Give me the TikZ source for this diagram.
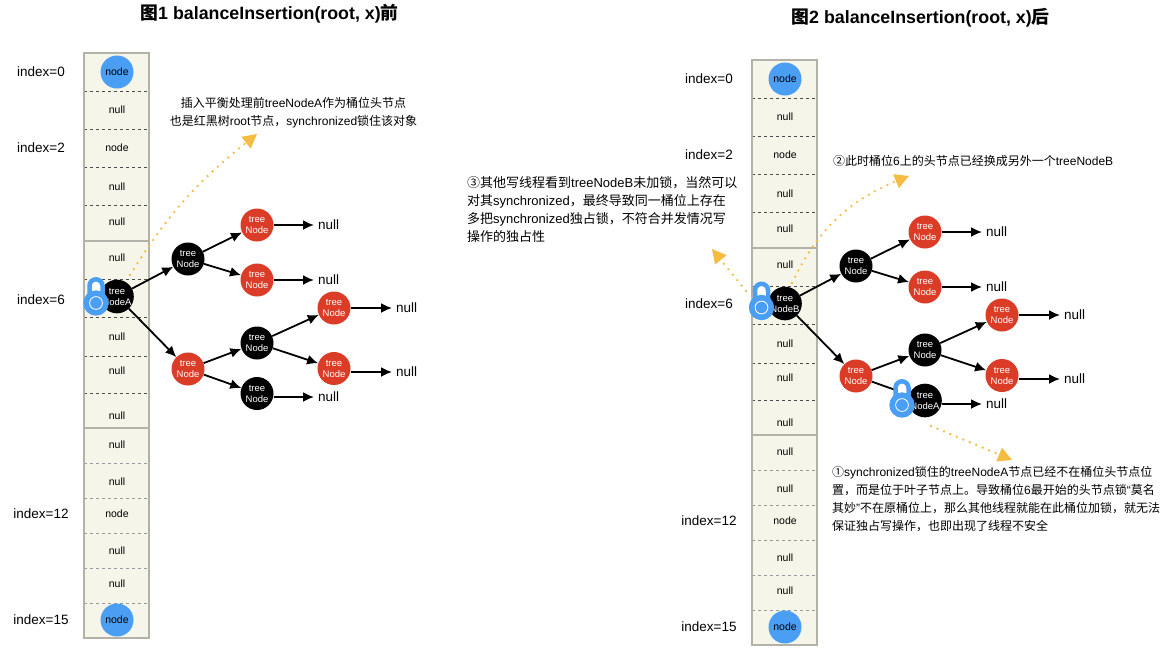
\documentclass[tikz,border=0pt]{standalone}
\usepackage{fontspec}
\setmainfont{Liberation Sans}
\newfontfamily\cjkfont{Noto Sans CJK SC}
\newcommand{\cn}[1]{{\cjkfont #1}}
\usepackage{xcolor}
\usetikzlibrary{arrows.meta, bending}
\definecolor{cellbg}{HTML}{F5F5E9}
\definecolor{cellline}{HTML}{B2B2A8}
\definecolor{nodeblue}{HTML}{4A9FF5}
\definecolor{nodered}{HTML}{DB3C27}
\definecolor{noteorange}{HTML}{F4BD42}

\begin{document}
\begin{tikzpicture}[x=1pt, y=-1pt, >={Latex[length=11pt,width=10pt]},
  cell/.style={font=\fontsize{10.5}{12}\selectfont, inner sep=1pt},
  idx/.style={font=\fontsize{13.5}{15}\selectfont, inner sep=0pt},
  bluenode/.style={circle,fill=nodeblue,minimum size=33pt,inner sep=0pt,font=\fontsize{10.5}{12}\selectfont},
  tnode/.style={circle,minimum size=33pt,inner sep=0pt,align=center,text=white,font=\fontsize{9.5}{11}\selectfont},
  blk/.style={tnode,fill=black},
  rd/.style={tnode,fill=nodered},
  nul/.style={anchor=west,font=\fontsize{13.5}{15}\selectfont,inner sep=4pt},
  link/.style={->,line width=1.8pt},
  hint/.style={line width=2.6pt,draw=noteorange,line cap=round,dash pattern=on 0pt off 7pt,
    -{Triangle[length=14pt,width=15pt,fill=noteorange,line width=0pt,flex]}},
  note/.style={anchor=west,align=left,font=\fontsize{12}{18}\selectfont,inner sep=0pt},
  ttl/.style={font=\fontsize{17.8}{20}\selectfont\bfseries,inner sep=0pt},
  lockpic/.pic={
    \draw[nodeblue,line width=4.5pt,fill=white] (-6.5,-6) -- (-6.5,-17.2) arc[start angle=180,end angle=360,radius=6.5] -- (6.5,-6);
    \fill[nodeblue] (0,0) circle[radius=12.7];
    \draw[white,line width=0.8pt,fill=nodeblue] (0,0) circle[radius=6.4];
  }]
  \useasboundingbox (0,0) rectangle (1167,654);

  % both panels share column and tree
  \foreach \p/\dx/\dy/\rootsfx/\leafsfx/\sixy in {L/0/0/A//300,R/668/7/B/A/297}{
  \begin{scope}[shift={(\dx,\dy)}]
    % bucket column
    \fill[cellbg] (84,53) rectangle (149,638);
    \foreach \y in {91,129,167,205,279,317,356,393}
      \draw[black!70,dashed,line width=0.4pt] (84,\y) -- (149,\y);
    \foreach \y in {463,498,533,568,603}
      \draw[black!40,dashed,line width=0.4pt] (84,\y) -- (149,\y);
    \draw[cellline,line width=1.3pt] (84,53) rectangle (149,638);
    \draw[cellline,line width=1.3pt] (84,241) -- (149,241) (84,428) -- (149,428);
    \foreach \y/\t in {110/null,148/node,187/null,222/null,258/null,337/null,371/null,416/null,445/null,482/null,514/node,551/null,584/null}
      \node[cell] (\p cell\y) at (117,\y) {\t};
    \node[bluenode] (\p first) at (117,72) {node};
    \node[bluenode] (\p last) at (117,620) {node};
    % index labels
    \foreach \y/\t in {72/0,148/2,\sixy/6,514/12,620/15}
      \node[idx] (\p idx\t) at (41,\y) {index=\t};
    % red black tree
    \node[blk] (\p root) at (117,296.5) {tree\\Node\rootsfx};
    \node[blk] (\p a) at (188,259) {tree\\Node};
    \node[rd] (\p b) at (188,369) {tree\\Node};
    \node[rd] (\p aa) at (257,225) {tree\\Node};
    \node[rd] (\p ab) at (257,280) {tree\\Node};
    \node[blk] (\p ba) at (257,343) {tree\\Node};
    \node[blk] (\p bb) at (257,393.5) {tree\\Node\leafsfx};
    \node[rd] (\p baa) at (334,308) {tree\\Node};
    \node[rd] (\p bab) at (334,368.5) {tree\\Node};
    \node[nul] (\p n1) at (314,225) {null};
    \node[nul] (\p n2) at (314,280) {null};
    \node[nul] (\p n3) at (392,308) {null};
    \node[nul] (\p n4) at (392,372) {null};
    \node[nul] (\p n5) at (314,397) {null};
    \draw[link] (\p root) -- (\p a);
    \draw[link] (\p root) -- (\p b);
    \draw[link] (\p a) -- (\p aa);
    \draw[link] (\p a) -- (\p ab);
    \draw[link] (\p b) -- (\p ba);
    \draw[link] (\p b) -- (\p bb);
    \draw[link] (\p ba) -- (\p baa);
    \draw[link] (\p ba) -- (\p bab);
    \draw[link] (\p aa) -- (\p n1);
    \draw[link] (\p ab) -- (\p n2);
    \draw[link] (\p baa) -- (\p n3);
    \draw[link] (\p bab.east |- \p n4.west) -- (\p n4.west);
    \draw[link] (\p bb.east |- \p n5.west) -- (\p n5.west);
  \end{scope}
  }
  % locks
  \pic at (96,303) {lockpic};
  \pic at (761.5,307.5) {lockpic};
  \pic at (902,405) {lockpic};

  % titles
  \node[ttl] (title1) at (269.5,14) {\cn{图}1 balanceInsertion(root, x)\cn{前}};
  \node[ttl] (title2) at (920.5,18) {\cn{图}2 balanceInsertion(root, x)\cn{后}};

  % notes
  \node[note,anchor=center,align=center] (note0) at (293.5,113) {\cn{插入平衡处理前}treeNodeA\cn{作为桶位头节点}\\\cn{也是红黑树}root\cn{节点，}synchronized\cn{锁住该对象}};
  \node[note] (note2) at (833,161) {\cn{②此时桶位}6\cn{上的头节点已经换成另外一个}treeNodeB};
  \node[note,font=\fontsize{13}{18.3}\selectfont] (note3) at (467,209.5) {\cn{③其他写线程看到}treeNodeB\cn{未加锁，当然可以}\\\cn{对其}synchronized\cn{，最终导致同一桶位上存在}\\\cn{多把}synchronized\cn{独占锁，不符合并发情况写}\\\cn{操作的独占性}};
  \node[note] (note1) at (832,499.5) {\cn{①}synchronized\cn{锁住的}treeNodeA\cn{节点已经不在桶位头节点位}\\\cn{置，而是位于叶子节点上。导致桶位}6\cn{最开始的头节点锁}“\cn{莫名}\\\cn{其妙}”\cn{不在原桶位上，那么其他线程就能在此桶位加锁，就无法}\\\cn{保证独占写操作，也即出现了线程不安全}};

  % dotted hints
  \coordinate (hintLs) at (130,275);
  \coordinate (hintLe) at (257,134);
  \coordinate (hintRs) at (792,283);
  \coordinate (hintRe) at (909,176);
  \coordinate (hintBs) at (746,291);
  \coordinate (hintBe) at (712,249);
  \coordinate (hintAs) at (931,426);
  \coordinate (hintAe) at (1012,460);
  \draw[hint] (hintLs) to[bend left=10] (hintLe);
  \draw[hint] (hintRs) to[bend left=22] (hintRe);
  \draw[hint] (hintBs) -- (hintBe);
  \draw[hint] (hintAs) -- (hintAe);
\end{tikzpicture}
\end{document}
